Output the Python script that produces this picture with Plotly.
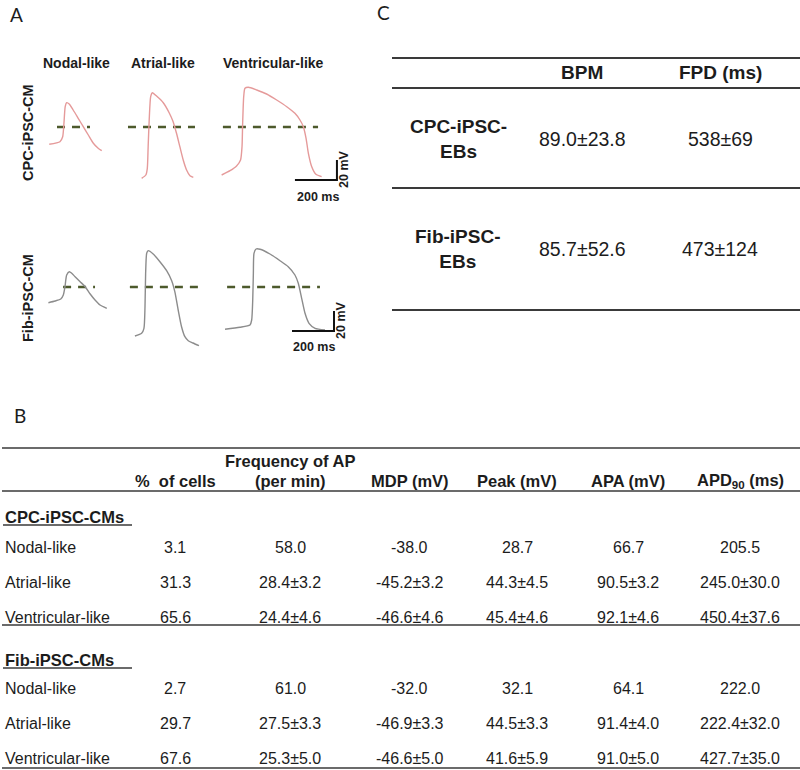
import plotly.graph_objects as go

W, H = 800, 770

# ---------------- Panel A data: representative action potentials ----------------
# time in ms from the start of each trace, voltage in mV (0 mV = dashed line)
AP_TYPES = ["Nodal-like", "Atrial-like", "Ventricular-like"]
CELL_LINES = ["CPC-iPSC-CM", "Fib-iPSC-CM"]

cpc_nodal_t = [0, 51, 64, 70, 76, 83, 95, 114, 138, 162, 186, 210, 233, 250]
cpc_nodal_v = [-17.3, -14.7, -9.7, 3.7, 20.3, 24.3, 23, 17, 8.7, 0.3, -8, -16.3, -21.3, -23.7]

cpc_atrial_t = [0, 20, 27, 31, 36, 43, 51, 71, 103, 131, 150, 166, 182, 198, 214, 230, 246]
cpc_atrial_v = [-51.3, -48, -41.3, -19.7, 7, 30.3, 34.3, 31, 24.3, 14.3, 5.3, -6.3, -19.7, -33, -43, -48.7, -50.3]

cpc_vent_t = [0, 40, 71, 90, 97, 100, 105, 111, 127, 167, 214, 262, 310, 349, 373, 389, 402, 413, 429, 449, 476]
cpc_vent_v = [-48, -43.7, -39, -33, -19.7, 3.7, 30.3, 38.7, 39.7, 37, 33, 27, 20.3, 13.7, 7, 0.3, -11.3, -26.3, -39.7, -47.3, -49.7]

fib_nodal_t = [0, 32, 59, 71, 79, 87, 100, 111, 127, 151, 175, 199, 222, 246, 278]
fib_nodal_v = [-15.7, -14, -12, -8, 0.3, 12, 15.3, 13.7, 10.3, 5.3, 0.3, -7, -13, -18, -21.3]

fib_atrial_t = [0, 32, 43, 48, 51, 56, 63, 87, 119, 151, 175, 190, 206, 222, 238, 254, 276, 305]
fib_atrial_v = [-49, -46.3, -41.3, -19.7, 13.7, 33.7, 36.3, 33, 25.3, 16.3, 6.3, -4.7, -23, -39.7, -49.7, -53.7, -56, -58.7]

fib_vent_t = [0, 71, 119, 127, 132, 135, 138, 148, 167, 214, 262, 301, 333, 349, 365, 381, 400, 429, 476]
fib_vent_v = [-42.3, -40.3, -38, -33, -13, 13.7, 33.7, 38, 37.7, 33, 26.3, 20.3, 12, 3.7, -11.3, -26.3, -36.3, -41.3, -43]

# dashed 0 mV reference extent (ms from trace start)
cpc_zero_start = [37, -65, 6]
cpc_zero_end = [194, 254, 459]
fib_zero_start = [70, -24, 10]
fib_zero_end = [222, 300, 452]

SCALE_MS = 200
SCALE_MV = 20

# ---------------- Panel B data ----------------
B_COLUMNS = ["% &nbsp;of cells", "Frequency of AP", "(per min)", "MDP (mV)", "Peak (mV)",
             "APA (mV)", "APD<sub>90</sub> (ms)"]
B_GROUPS = ["CPC-iPSC-CMs", "Fib-iPSC-CMs"]
B_ROWS = ["Nodal-like", "Atrial-like", "Ventricular-like"]

cpc_pct = [3.1, 31.3, 65.6]
cpc_freq = [58.0, 28.4, 24.4]
cpc_freq_sd = [None, 3.2, 4.6]
cpc_mdp = [-38.0, -45.2, -46.6]
cpc_mdp_sd = [None, 3.2, 4.6]
cpc_peak = [28.7, 44.3, 45.4]
cpc_peak_sd = [None, 4.5, 4.6]
cpc_apa = [66.7, 90.5, 92.1]
cpc_apa_sd = [None, 3.2, 4.6]
cpc_apd = [205.5, 245.0, 450.4]
cpc_apd_sd = [None, 30.0, 37.6]

fib_pct = [2.7, 29.7, 67.6]
fib_freq = [61.0, 27.5, 25.3]
fib_freq_sd = [None, 3.3, 5.0]
fib_mdp = [-32.0, -46.9, -46.6]
fib_mdp_sd = [None, 3.3, 5.0]
fib_peak = [32.1, 44.5, 41.6]
fib_peak_sd = [None, 3.3, 5.9]
fib_apa = [64.1, 91.4, 91.0]
fib_apa_sd = [None, 4.0, 5.0]
fib_apd = [222.0, 222.4, 427.7]
fib_apd_sd = [None, 32.0, 35.0]

# ---------------- Panel C data ----------------
C_COLUMNS = ["BPM", "FPD (ms)"]
C_ROWS = ["CPC-iPSC-<br>EBs", "Fib-iPSC-<br>EBs"]
bpm_mean = [89.0, 85.7]
bpm_sd = [23.8, 52.6]
fpd_mean = [538, 473]
fpd_sd = [69, 124]

# ---------------- styling ----------------
FONT = "Liberation Sans, Arial, sans-serif"
LETTER_FONT = "Lato, Open Sans, sans-serif"
TXT = "#1c1c1c"
CPC_COLOR = "#e59a9a"
FIB_COLOR = "#8c8c8c"
ZERO_COLOR = "#4d5a2c"
RULE = "#3a3a3a"

PX_PER_MS = 0.21
PX_PER_MV = 1.0

fig = go.Figure()
annotations = []
shapes = []


def px(x):
    return x / W


def py(y):
    return 1 - y / H


def ann(text, x, y, size, bold=False, xanchor="center", angle=0, color=TXT, family=FONT):
    if bold:
        text = "<b>" + text.replace("<br>", "</b><br><b>") + "</b>"
    annotations.append(dict(text=text, x=px(x), y=py(y), xref="paper", yref="paper",
                            xanchor=xanchor, yanchor="middle", showarrow=False,
                            textangle=angle, align="center",
                            font=dict(size=size, color=color, family=family)))


def hline(x0, x1, y, width=1.6, color=RULE):
    shapes.append(dict(type="line", xref="paper", yref="paper", x0=px(x0), x1=px(x1),
                       y0=py(y), y1=py(y), line=dict(color=color, width=width)))


def fmt(mean, sd, nd=1):
    s = f"{mean:.{nd}f}"
    if sd is not None:
        s += f"±{sd:.{nd}f}"
    return s


# ---------------- Panel A ----------------
ax_left, ax_right = 40, 345
rows_px = [(80, 190, 127), (240, 350, 287)]  # top, bottom, pixel of 0 mV
x_range = [0, (ax_right - ax_left) / PX_PER_MS]

col_offsets = [[44, 484, 865], [40, 452, 881]]  # ms where each trace starts
bar_anchor = [(1214, -53), (1200, -44)]       # ms, mV of scale bar corner

cpc_traces = [(cpc_nodal_t, cpc_nodal_v), (cpc_atrial_t, cpc_atrial_v), (cpc_vent_t, cpc_vent_v)]
fib_traces = [(fib_nodal_t, fib_nodal_v), (fib_atrial_t, fib_atrial_v), (fib_vent_t, fib_vent_v)]
zero_ext = [(cpc_zero_start, cpc_zero_end), (fib_zero_start, fib_zero_end)]

for r, (traces, color) in enumerate([(cpc_traces, CPC_COLOR), (fib_traces, FIB_COLOR)]):
    xa = "x" if r == 0 else "x2"
    ya = "y" if r == 0 else "y2"
    for c in range(3):
        off = col_offsets[r][c]
        z0, z1 = zero_ext[r][0][c] + off, zero_ext[r][1][c] + off
        fig.add_trace(go.Scatter(x=[z0, z1], y=[0, 0], mode="lines", xaxis=xa, yaxis=ya,
                                 line=dict(color=ZERO_COLOR, width=2.6, dash="8px,7px"),
                                 hoverinfo="skip", showlegend=False))
    for c, (t, v) in enumerate(traces):
        off = col_offsets[r][c]
        fig.add_trace(go.Scatter(x=[ti + off for ti in t], y=v, mode="lines", xaxis=xa, yaxis=ya,
                                 line=dict(color=color, width=1.4, shape="spline", smoothing=0.6),
                                 name=f"{CELL_LINES[r]} {AP_TYPES[c]}", showlegend=False))
    bx, by = bar_anchor[r]
    fig.add_trace(go.Scatter(x=[bx, bx + SCALE_MS, bx + SCALE_MS], y=[by, by, by + SCALE_MV],
                             mode="lines", xaxis=xa, yaxis=ya,
                             line=dict(color="#111111", width=2), hoverinfo="skip", showlegend=False))

layout_axes = {}
for r, (top, bot, zero_px) in enumerate(rows_px):
    xk = "xaxis" if r == 0 else "xaxis2"
    yk = "yaxis" if r == 0 else "yaxis2"
    layout_axes[xk] = dict(domain=[px(ax_left), px(ax_right)], range=x_range, visible=False,
                           anchor="y" if r == 0 else "y2", fixedrange=True)
    layout_axes[yk] = dict(domain=[py(bot), py(top)],
                           range=[(zero_px - bot) / PX_PER_MV, (zero_px - top) / PX_PER_MV],
                           visible=False, anchor="x" if r == 0 else "x2", fixedrange=True)

# Panel A texts
ann("A", 16, 14, 19, family=LETTER_FONT)
for c, xc in enumerate([76, 163, 273]):
    ann(AP_TYPES[c], xc, 63, 14, bold=True)
ann(CELL_LINES[0], 28, 133, 14.5, bold=True, angle=-90)
ann(CELL_LINES[1], 28, 298, 14.5, bold=True, angle=-90)
ann(f"{SCALE_MS} ms", 318, 197, 12.5, bold=True)
ann(f"{SCALE_MV} mV", 344, 170, 12.5, bold=True, angle=-90)
ann(f"{SCALE_MS} ms", 314, 347, 12.5, bold=True)
ann(f"{SCALE_MV} mV", 341, 321, 12.5, bold=True, angle=-90)

# ---------------- Panel C ----------------
ann("C", 383, 13, 19, family=LETTER_FONT)
for y in [58, 88, 188, 310]:
    hline(392, 800, y, width=2)
c_cols_x = [582, 720]
for i, name in enumerate(C_COLUMNS):
    ann(name, c_cols_x[i], 73, 19, bold=True)
c_rows_y = [139, 249]
for i in range(2):
    ann(C_ROWS[i], 458, c_rows_y[i], 19, bold=True)
    ann(fmt(bpm_mean[i], bpm_sd[i], 1), c_cols_x[0], c_rows_y[i], 19.5)
    ann(fmt(fpd_mean[i], fpd_sd[i], 0), c_cols_x[1], c_rows_y[i], 19.5)

# ---------------- Panel B ----------------
ann("B", 20, 416, 19, family=LETTER_FONT)
for y in [448, 491, 625, 768]:
    hline(2, 800, y, width=1.6)

b_cols_x = [175, 290, 410, 517, 628, 740]
ann(B_COLUMNS[0], b_cols_x[0], 481, 16.5, bold=True)
ann(B_COLUMNS[1], b_cols_x[1], 461, 16.5, bold=True)
ann(B_COLUMNS[2], b_cols_x[1], 481, 16.5, bold=True)
for i in range(3, 7):
    ann(B_COLUMNS[i], b_cols_x[i - 1], 481, 16.5, bold=True)

groups = [
    (cpc_pct, cpc_freq, cpc_freq_sd, cpc_mdp, cpc_mdp_sd, cpc_peak, cpc_peak_sd,
     cpc_apa, cpc_apa_sd, cpc_apd, cpc_apd_sd),
    (fib_pct, fib_freq, fib_freq_sd, fib_mdp, fib_mdp_sd, fib_peak, fib_peak_sd,
     fib_apa, fib_apa_sd, fib_apd, fib_apd_sd),
]
group_y = [517, 660]
underline_y = [525, 668]
row_y = [[547, 582, 617], [688, 723, 758]]
for g in range(2):
    ann(B_GROUPS[g], 3, group_y[g], 16.5, bold=True, xanchor="left")
    hline(3, 132, underline_y[g], width=1.6)
    pct, fr, frs, md, mds, pk, pks, ap, aps, dd, dds = groups[g]
    for k in range(3):
        y = row_y[g][k]
        ann(B_ROWS[k], 3, y, 16, xanchor="left")
        vals = [fmt(pct[k], None), fmt(fr[k], frs[k]), fmt(md[k], mds[k]),
                fmt(pk[k], pks[k]), fmt(ap[k], aps[k]), fmt(dd[k], dds[k])]
        for j, s in enumerate(vals):
            ann(s, b_cols_x[j], y, 16)

fig.update_layout(
    width=W, height=H, margin=dict(l=0, r=0, t=0, b=0),
    paper_bgcolor="white", plot_bgcolor="rgba(0,0,0,0)",
    showlegend=False, annotations=annotations, shapes=shapes,
    **layout_axes,
)

fig.write_html("out.html", config={"displayModeBar": False},
               post_script="document.body.style.margin='0';document.body.style.padding='0';")
